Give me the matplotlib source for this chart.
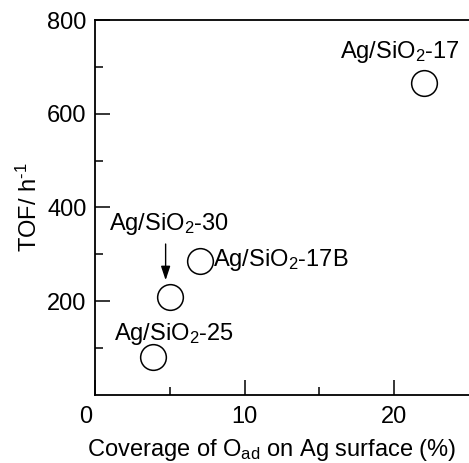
import numpy as np
import matplotlib
matplotlib.use("Agg")
import matplotlib.pyplot as plt
import matplotlib.transforms as mtransforms

plt.rcParams['font.family'] = ['Liberation Sans', 'DejaVu Sans']
plt.rcParams['mathtext.fontset'] = 'custom'
plt.rcParams['mathtext.rm'] = 'Liberation Sans'
plt.rcParams['mathtext.it'] = 'Liberation Sans'
plt.rcParams['mathtext.default'] = 'regular'

# data
samples = ['Ag/SiO$_2$-17', 'Ag/SiO$_2$-17B', 'Ag/SiO$_2$-30', 'Ag/SiO$_2$-25']
coverage = [22.0, 7.0, 5.0, 3.9]
tof = [665, 285, 210, 82]

xticks = [0, 10, 20]
yticks = [200, 400, 600, 800]

fs = 17

fig = plt.figure(figsize=(4.69, 4.63), dpi=100)
ax = fig.add_axes([0.2026, 0.1469, 0.7974, 0.8099])

ax.plot(coverage, tof, 'o', ms=18.5, mfc='white', mec='black', mew=1.1, clip_on=False)

# labels next to the circles
ax.text(20.4, 719, samples[0], ha='center', va='baseline', fontsize=fs)
ax.text(7.9, 275, samples[1], ha='left', va='baseline', fontsize=fs)
ax.text(4.95, 353, samples[2], ha='center', va='baseline', fontsize=fs)
ax.text(5.3, 118, samples[3], ha='center', va='baseline', fontsize=fs)

# arrow pointing at the -30 sample
ax.annotate('', xy=(4.72, 239), xytext=(4.72, 328),
            arrowprops=dict(arrowstyle='-|>,head_length=0.6,head_width=0.2', lw=1.0,
                            color='black', mutation_scale=14))

ax.set_xlim(0, 25)
ax.set_ylim(0, 800)
ax.set_xticks(xticks)
ax.set_yticks(yticks)
ax.set_xticks([5, 15], minor=True)
ax.set_yticks([100, 300, 500, 700], minor=True)
ax.tick_params(which='major', direction='in', length=11, width=1.1, labelsize=fs, color='black')
ax.tick_params(which='minor', direction='in', length=6, width=1.1)
ax.tick_params(axis='x', pad=8)
ax.tick_params(axis='y', pad=6)

# the "0" label sits a little left of the axis in the original
lbl0 = ax.get_xticklabels()[0]
lbl0.set_transform(lbl0.get_transform() + mtransforms.ScaledTranslation(-9 / 100, 0, fig.dpi_scale_trans))

for s in ['left', 'bottom', 'top']:
    ax.spines[s].set_linewidth(1.3)
ax.spines['right'].set_visible(False)

ax.set_xlabel('Coverage of O$_{ad}$ on Ag surface (%)', fontsize=fs)
ax.xaxis.set_label_coords(0.473, -0.113, transform=ax.transAxes)
ax.xaxis.label.set_va('top')
ax.set_ylabel('TOF/ h$^{\u2010 1}$', fontsize=fs, labelpad=4)

fig.savefig('out.png', dpi=100)
